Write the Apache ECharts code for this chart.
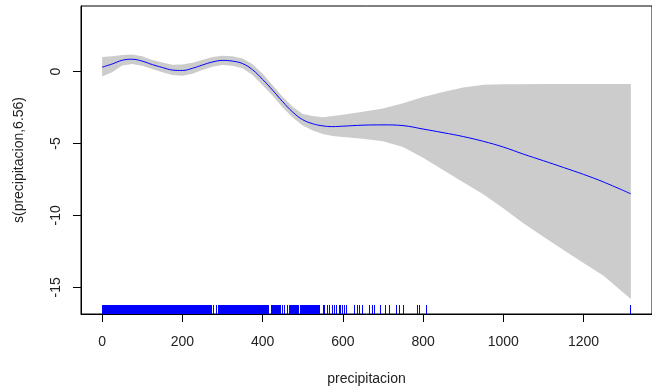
<!DOCTYPE html>
<html>
<head>
<meta charset="utf-8">
<script src="https://cdn.jsdelivr.net/npm/echarts@6/dist/echarts.min.js"></script>
<style>html,body{margin:0;padding:0;background:#fff;}#c{width:652px;height:391px;}</style>
</head>
<body>
<div id="c"></div>
<script>
// ---- data ----
const xGrid = [0,25,50,75,100,125,150,175,200,225,250,275,300,325,350,375,400,425,450,475,500,525,550,575,600,650,700,750,800,850,900,950,1000,1050,1100,1150,1200,1250,1318];
const fitValues = [0.30,0.52,0.78,0.85,0.72,0.48,0.28,0.10,0.07,0.22,0.45,0.66,0.77,0.72,0.55,0.12,-0.55,-1.30,-2.10,-2.82,-3.35,-3.63,-3.78,-3.83,-3.80,-3.73,-3.71,-3.76,-4.00,-4.25,-4.52,-4.85,-5.25,-5.74,-6.20,-6.67,-7.15,-7.68,-8.50];
const upperValues = [1.00,1.05,1.15,1.18,1.05,0.80,0.62,0.47,0.48,0.60,0.80,1.00,1.09,1.05,0.90,0.50,-0.15,-0.95,-1.75,-2.45,-2.95,-3.10,-3.18,-3.10,-3.00,-2.80,-2.57,-2.20,-1.78,-1.43,-1.12,-0.93,-0.88,-0.88,-0.87,-0.87,-0.87,-0.87,-0.87];
const lowerValues = [-0.35,-0.05,0.42,0.52,0.40,0.18,-0.05,-0.25,-0.30,-0.15,0.10,0.33,0.45,0.40,0.22,-0.25,-0.95,-1.68,-2.50,-3.20,-3.75,-4.10,-4.35,-4.48,-4.55,-4.68,-4.85,-5.25,-6.00,-6.85,-7.69,-8.53,-9.50,-10.55,-11.48,-12.40,-13.30,-14.20,-15.80];
const rugValues = [
0,2,4,6,8,10,12,14,16,18,20,22,24,26,28,30,32,34,36,38,40,42,44,46,48,50,52,54,56,58,60,62,64,66,68,70,72,74,76,78,80,82,84,86,88,90,92,94,96,98,
100,102,104,106,108,110,112,114,116,118,120,122,124,126,128,130,132,134,136,138,140,142,144,146,148,150,152,154,156,158,160,162,164,166,168,170,172,174,176,178,180,182,184,186,188,190,192,194,196,198,
200,202,204,206,208,210,212,214,216,218,220,222,224,226,228,230,232,234,236,238,240,242,244,246,248,250,252,254,256,258,260,262,264,266,268,270,272,
277,285,
291,293,295,297,299,301,303,305,307,309,311,313,315,317,319,321,323,325,327,329,331,333,335,337,339,341,343,345,347,349,351,353,355,357,359,361,363,365,367,369,371,373,375,377,379,381,383,385,387,389,391,393,395,397,399,401,403,405,407,409,411,413,415,
422,424,426,428,430,432,434,436,438,440,442,444,
449,455,461,
466,468,470,472,474,476,478,480,482,484,486,
490,
494,496,498,500,502,504,506,508,510,512,514,
518,520,522,524,526,528,530,532,534,536,538,540,
543,551,555,563,568,575,580,585,591,595,600,605,609,
630,636,642,649,667,673,679,
693,706,716,733,735,742,751,786,792,808,
1318];
const xTicks = [0,200,400,600,800,1000,1200];
const yTicks = [-15,-10,-5,0];
const xTitle = 'precipitacion';
const yTitle = 's(precipitacion,6.56)';

// ---- layout ----
const X_MIN = -52.7, X_MAX = 1370.7;
const Y_MIN = -16.85, Y_MAX = 4.55;
const FONT = "'Liberation Sans', Arial, sans-serif";
const TEXT = '#222';

const chart = echarts.init(document.getElementById('c'), null, {renderer: 'canvas'});
const option = {
  animation: false,
  backgroundColor: '#fff',
  grid: {left: 81, top: 6, width: 578, height: 309, show: true, borderColor: '#000', borderWidth: 1, backgroundColor: 'transparent'},
  xAxis: {
    type: 'value', min: X_MIN, max: X_MAX,
    name: xTitle, nameLocation: 'middle', nameGap: 58,
    nameTextStyle: {fontFamily: FONT, fontSize: 14, color: TEXT},
    axisLine: {show: true, onZero: false, lineStyle: {color: '#000', width: 1}},
    axisTick: {show: true, length: 8, customValues: xTicks, lineStyle: {color: '#000'}},
    axisLabel: {customValues: xTicks, margin: 21, fontFamily: FONT, fontSize: 14, color: TEXT, formatter: v => String(v)},
    splitLine: {show: false}
  },
  yAxis: {
    type: 'value', min: Y_MIN, max: Y_MAX,
    name: yTitle, nameLocation: 'middle', nameGap: 55, nameRotate: 90,
    nameTextStyle: {fontFamily: FONT, fontSize: 14, color: TEXT},
    axisLine: {show: true, onZero: false, lineStyle: {color: '#000', width: 1}},
    axisTick: {show: true, length: 8, customValues: yTicks, lineStyle: {color: '#000'}},
    axisLabel: {customValues: yTicks, rotate: 90, margin: 18, fontFamily: FONT, fontSize: 14, color: TEXT, formatter: v => String(v)},
    splitLine: {show: false}
  },
  series: [
    {
      type: 'custom', name: 'band', clip: true, z: 1,
      data: [[xGrid[0], fitValues[0]]],
      renderItem: function (params, api) {
        const pts = [];
        for (let i = 0; i < xGrid.length; i++) pts.push(api.coord([xGrid[i], upperValues[i]]));
        for (let i = xGrid.length - 1; i >= 0; i--) pts.push(api.coord([xGrid[i], lowerValues[i]]));
        return {type: 'polygon', shape: {points: pts}, style: {fill: '#cccccc'}};
      },
      silent: true
    },
    {
      type: 'line', name: 'fit', z: 3,
      data: xGrid.map((x, i) => [x, fitValues[i]]),
      showSymbol: false, smooth: 0.4,
      lineStyle: {color: '#0000ff', width: 1},
      silent: true
    },
    {
      type: 'custom', name: 'rug', z: 2,
      data: rugValues.map(v => [v, Y_MIN]),
      renderItem: function (params, api) {
        const p = api.coord([api.value(0), Y_MIN]);
        return {type: 'rect', shape: {x: Math.floor(p[0]), y: p[1] - 9, width: 1, height: 9}, style: {fill: '#0000ff'}};
      },
      silent: true
    }
  ]
};
chart.setOption(option);
</script>
</body>
</html>
